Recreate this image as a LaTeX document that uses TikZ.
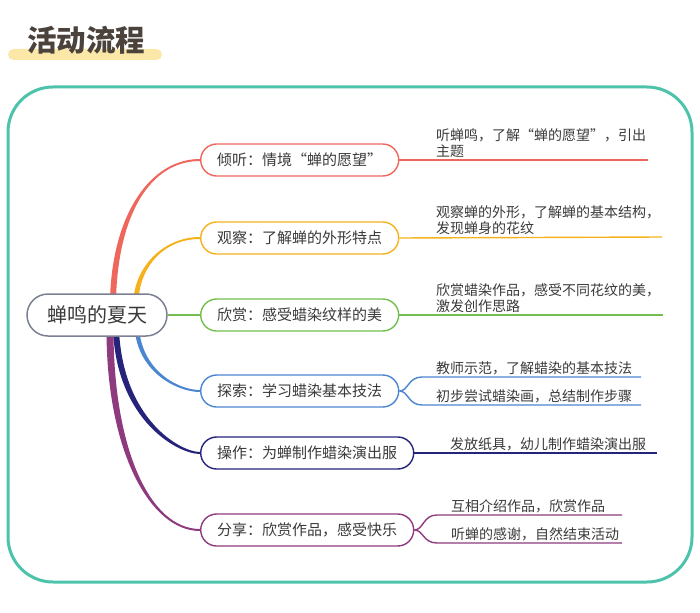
\documentclass[tikz,border=0pt]{standalone}
\usepackage{fontspec}
\setmainfont{Noto Sans CJK SC}
\usetikzlibrary{shapes.misc,backgrounds}
\definecolor{cred}{HTML}{EE675C}
\definecolor{corange}{HTML}{F5B21C}
\definecolor{cgreen}{HTML}{72BF4E}
\definecolor{cblue}{HTML}{4B86D1}
\definecolor{cnavy}{HTML}{25237A}
\definecolor{cpurple}{HTML}{8E3A7E}
\definecolor{cframe}{HTML}{4CC3AA}
\definecolor{ctitle}{HTML}{4B423C}
\definecolor{ctitlebar}{HTML}{FBE8A8}
\definecolor{ctext}{HTML}{3A3A3A}
\definecolor{ccenter}{HTML}{7B8192}
\begin{document}
\begin{tikzpicture}[x=1pt,y=-1pt,
  centerbox/.style={rounded rectangle, draw=ccenter, line width=1.5pt, fill=white,
    minimum width=140pt, minimum height=42pt, inner xsep=0pt, text=ctext,
    font=\fontsize{20}{24}\selectfont},
  branch/.style={rounded rectangle, line width=1.4pt, fill=white, anchor=west,
    minimum width=#1, minimum height=32pt, inner xsep=1pt, text=ctext,
    font=\fontsize{15}{18}\selectfont},
  branch/.default=200pt,
  detail/.style={inner sep=0pt, align=left, anchor=south west, text=ctext,
    font=\fontsize{14}{16}\selectfont},
  dline/.style={line width=1.4pt}]
\useasboundingbox (0,0) rectangle (700,612);
\fill[ctitlebar, rounded corners=5.5pt] (8,49) rectangle (162,60);
\node[font=\fontsize{29.5}{32}\selectfont\bfseries, text=ctitle, inner sep=0pt] (title) at (86,40.5) {活动流程};
\draw[cframe, line width=3pt, rounded corners=45pt] (8,87) rectangle (692,582);

\node[centerbox] (c) at (97,315) {蝉鸣的夏天};
\node[branch, draw=cred] (n1) at (200,160) {倾听：情境“蝉的愿望”};
\node[branch, draw=corange] (n2) at (200,238) {观察：了解蝉的外形特点};
\node[branch, draw=cgreen] (n3) at (200,315) {欣赏：感受蜡染纹样的美};
\node[branch, draw=cblue] (n4) at (200,391) {探索：学习蜡染基本技法};
\node[branch=215pt, draw=cnavy] (n5) at (200,453) {操作：为蝉制作蜡染演出服};
\node[branch=215pt, draw=cpurple] (n6) at (200,530) {分享：欣赏作品，感受快乐};

\begin{scope}[on background layer]
\fill[cred] (110,300) .. controls (112,215) and (150,159) .. ([yshift=1pt]n1.west) -- ([yshift=-1pt]n1.west) .. controls (150,161) and (118,215) .. (116,300) -- cycle;
\fill[corange] (133.5,300) .. controls (135.5,265) and (165,237) .. ([yshift=1pt]n2.west) -- ([yshift=-1pt]n2.west) .. controls (165,239) and (140.5,265) .. (138.5,300) -- cycle;
\draw[cgreen, line width=2.5pt] (c.east) -- (n3.west);
\fill[cblue] (134.8,330) .. controls (138.8,373) and (178,392) .. ([yshift=-1pt]n4.west) -- ([yshift=1pt]n4.west) .. controls (178,390) and (143.2,371) .. (139.2,330) -- cycle;
\fill[cnavy] (113,330) .. controls (117,421) and (178,454) .. ([yshift=-1pt]n5.west) -- ([yshift=1pt]n5.west) .. controls (180,452) and (123,419) .. (119,330) -- cycle;
\fill[cpurple] (106.5,330) .. controls (106.5,451) and (150,531) .. ([yshift=-1pt]n6.west) -- ([yshift=1pt]n6.west) .. controls (150,529) and (113.5,449) .. (113.5,330) -- cycle;
\end{scope}

% details
\coordinate (e1) at (648,160);
\draw[cred, dline] (n1.east) -- (e1);
\node[detail] (t1) at (436,158) {听蝉鸣，了解“蝉的愿望”，引出\\主题};

\coordinate (e2) at (662,237);
\draw[corange, dline] (n2.east) -- (e2);
\node[detail] (t2) at (436,235) {观察蝉的外形，了解蝉的基本结构，\\发现蝉身的花纹};

\coordinate (e3) at (663,315);
\draw[cgreen, dline] (n3.east) -- (e3);
\node[detail] (t3) at (436,313) {欣赏蜡染作品，感受不同花纹的美，\\激发创作思路};

\coordinate (f4a) at (422,377);
\coordinate (f4b) at (422,405);
\coordinate (e4a) at (641,377);
\coordinate (e4b) at (641,405);
\draw[cblue, dline] (n4.east) .. controls +(9,0) and (408,377) .. (f4a) -- (e4a);
\draw[cblue, dline] (n4.east) .. controls +(9,0) and (408,405) .. (f4b) -- (e4b);
\node[detail] (t4a) at (436,375) {教师示范，了解蜡染的基本技法};
\node[detail] (t4b) at (436,403) {初步尝试蜡染画，总结制作步骤};

\coordinate (e5) at (657,453);
\draw[cnavy, dline] (n5.east) -- (e5);
\node[detail] (t5) at (450,451) {发放纸具，幼儿制作蜡染演出服};

\coordinate (f6a) at (437,515);
\coordinate (f6b) at (437,543);
\coordinate (e6a) at (622,515);
\coordinate (e6b) at (622,543);
\draw[cpurple, dline] (n6.east) .. controls +(9,0) and (423,515) .. (f6a) -- (e6a);
\draw[cpurple, dline] (n6.east) .. controls +(9,0) and (423,543) .. (f6b) -- (e6b);
\node[detail] (t6a) at (451,513) {互相介绍作品，欣赏作品};
\node[detail] (t6b) at (451,541) {听蝉的感谢，自然结束活动};
\end{tikzpicture}
\end{document}
